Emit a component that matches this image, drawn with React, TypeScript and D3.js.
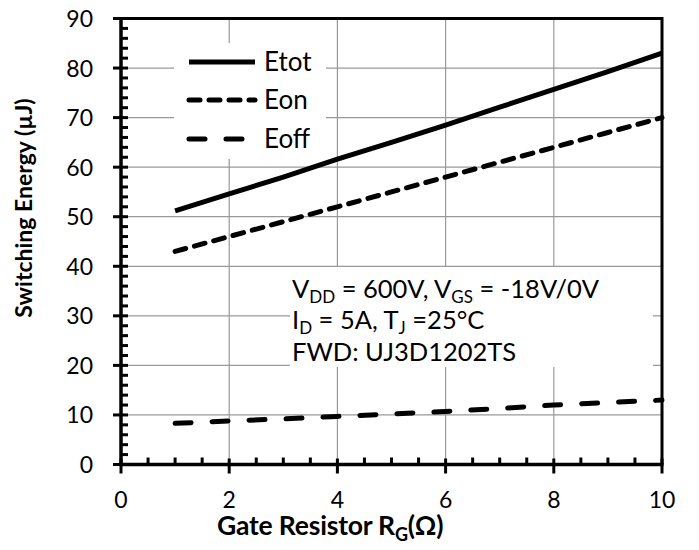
import React from "react";
import * as d3 from "d3";

// Gate resistance (Ω) and switching energies (µJ)
const rg = [1, 2, 3, 4, 5, 6, 7, 8, 9, 10];
const etot = [51.2, 54.6, 58.0, 61.6, 65.0, 68.5, 72.1, 75.7, 79.3, 83.0];
const eon = [43.0, 46.0, 49.0, 52.0, 55.0, 58.0, 61.0, 64.0, 67.0, 70.0];
const eoff = [8.3, 8.8, 9.2, 9.7, 10.2, 10.7, 11.3, 12.0, 12.5, 13.0];

const xTicks = [0, 2, 4, 6, 8, 10];
const yTicks = [0, 10, 20, 30, 40, 50, 60, 70, 80, 90];

const W = 699;
const H = 550;
const FONT = "Lato, 'Open Sans', sans-serif";

export default function App() {
  const x = d3.scaleLinear().domain([0, 10]).range([121, 662]);
  const y = d3.scaleLinear().domain([0, 90]).range([464.5, 18.5]);

  const line = d3
    .line<number>()
    .x((_, i) => x(rg[i]))
    .y((d) => y(d));

  const xMinor = d3.range(0, 10.001, 0.5).filter((v) => Math.abs(v % 2) > 1e-6);
  const yMinor = d3.range(0, 90.001, 2).filter((v) => Math.abs(v % 10) > 1e-6);

  const series = [
    { name: "Etot", values: etot, dash: undefined as string | undefined, cap: "butt" },
    { name: "Eon", values: eon, dash: "11,9", cap: "round" },
    { name: "Eoff", values: eoff, dash: "16,21", cap: "round" },
  ];

  const legendY = [62, 100, 139];

  return (
    <svg
      width={W}
      height={H}
      style={{ position: "absolute", left: 0, top: 0, background: "#fff" }}
      fontFamily={FONT}
    >
      <rect width={W} height={H} fill="#fff" />

      {/* grid */}
      {xTicks.slice(1, -1).map((t) => (
        <line key={"gx" + t} x1={x(t)} x2={x(t)} y1={y(0)} y2={y(90)} stroke="#999" strokeWidth={1.2} />
      ))}
      {yTicks.slice(1, -1).map((t) => (
        <line key={"gy" + t} x1={x(0)} x2={x(10)} y1={y(t)} y2={y(t)} stroke="#999" strokeWidth={1.2} />
      ))}

      {/* legend and annotation backgrounds */}
      <rect x={174} y={43} width={152} height={116} fill="#fff" />
      <rect x={290} y={267} width={363} height={100} fill="#fff" />

      {/* series */}
      {series.map((s) => (
        <path
          key={s.name}
          d={line(s.values) || ""}
          fill="none"
          stroke="#000"
          strokeWidth={5}
          strokeDasharray={s.dash}
          strokeLinecap={s.cap as any}
        />
      ))}

      {/* frame */}
      <line x1={x(0)} x2={x(10)} y1={y(90)} y2={y(90)} stroke="#000" strokeWidth={3} />
      <line x1={x(10)} x2={x(10)} y1={y(90) - 1.5} y2={y(0)} stroke="#000" strokeWidth={3} />
      <line x1={x(0)} x2={x(10) + 1.5} y1={y(0)} y2={y(0)} stroke="#000" strokeWidth={3.5} />
      <line x1={x(0)} x2={x(0)} y1={y(90) - 1.5} y2={y(0) + 1.5} stroke="#000" strokeWidth={3.5} />

      {/* x ticks */}
      {xMinor.map((t) => (
        <line key={"xm" + t} x1={x(t)} x2={x(t)} y1={y(0)} y2={y(0) - 7} stroke="#000" strokeWidth={3} />
      ))}
      {xTicks.map((t) => (
        <line key={"xM" + t} x1={x(t)} x2={x(t)} y1={y(0) - 6} y2={y(0) + 9} stroke="#000" strokeWidth={3} />
      ))}
      {xTicks.map((t) => (
        <text key={"xl" + t} x={x(t)} y={508} fontSize={23} textAnchor="middle" fill="#000">
          {t}
        </text>
      ))}

      {/* y ticks */}
      {yMinor.map((t) => (
        <line key={"ym" + t} x1={x(0)} x2={x(0) + 7} y1={y(t)} y2={y(t)} stroke="#000" strokeWidth={3} />
      ))}
      {yTicks.map((t) => (
        <line key={"yM" + t} x1={x(0) - 8} x2={x(0) + 7} y1={y(t)} y2={y(t)} stroke="#000" strokeWidth={3} />
      ))}
      {yTicks.map((t) => (
        <text key={"yl" + t} x={93} y={y(t) + 8.5} fontSize={23} textAnchor="end" fill="#000">
          {t}
        </text>
      ))}

      {/* axis titles */}
      <text x={217} y={535} fontSize={26.5} fontWeight="bold" fill="#000" letterSpacing={-0.2}>
        Gate Resistor R
        <tspan fontSize={18} dy={6}>G</tspan>
        <tspan dy={-6}>(Ω)</tspan>
      </text>
      <text
        transform="translate(32,208) rotate(-90)"
        fontSize={23}
        fontWeight="bold"
        textAnchor="middle"
        fill="#000"
      >
        Switching Energy (µJ)
      </text>

      {/* legend */}
      {series.map((s, i) => (
        <g key={"lg" + s.name}>
          <line
            x1={189}
            x2={255}
            y1={legendY[i]}
            y2={legendY[i]}
            stroke="#000"
            strokeWidth={5}
            strokeDasharray={s.dash}
            strokeLinecap={s.cap as any}
          />
          <text x={264} y={legendY[i] + 9} fontSize={26} fill="#000">
            {s.name}
          </text>
        </g>
      ))}

      {/* test conditions */}
      <g fontSize={25.5} fill="#000">
        <text x={292} y={298}>
          V<tspan fontSize={17} dy={5}>DD</tspan>
          <tspan dy={-5}> = 600V, V</tspan>
          <tspan fontSize={17} dy={5}>GS</tspan>
          <tspan dy={-5}> = -18V/0V</tspan>
        </text>
        <text x={292} y={329}>
          I<tspan fontSize={17} dy={5}>D</tspan>
          <tspan dy={-5}> = 5A, T</tspan>
          <tspan fontSize={17} dy={5}>J</tspan>
          <tspan dy={-5}> =25°C</tspan>
        </text>
        <text x={292} y={361}>
          FWD: UJ3D1202TS
        </text>
      </g>
    </svg>
  );
}
